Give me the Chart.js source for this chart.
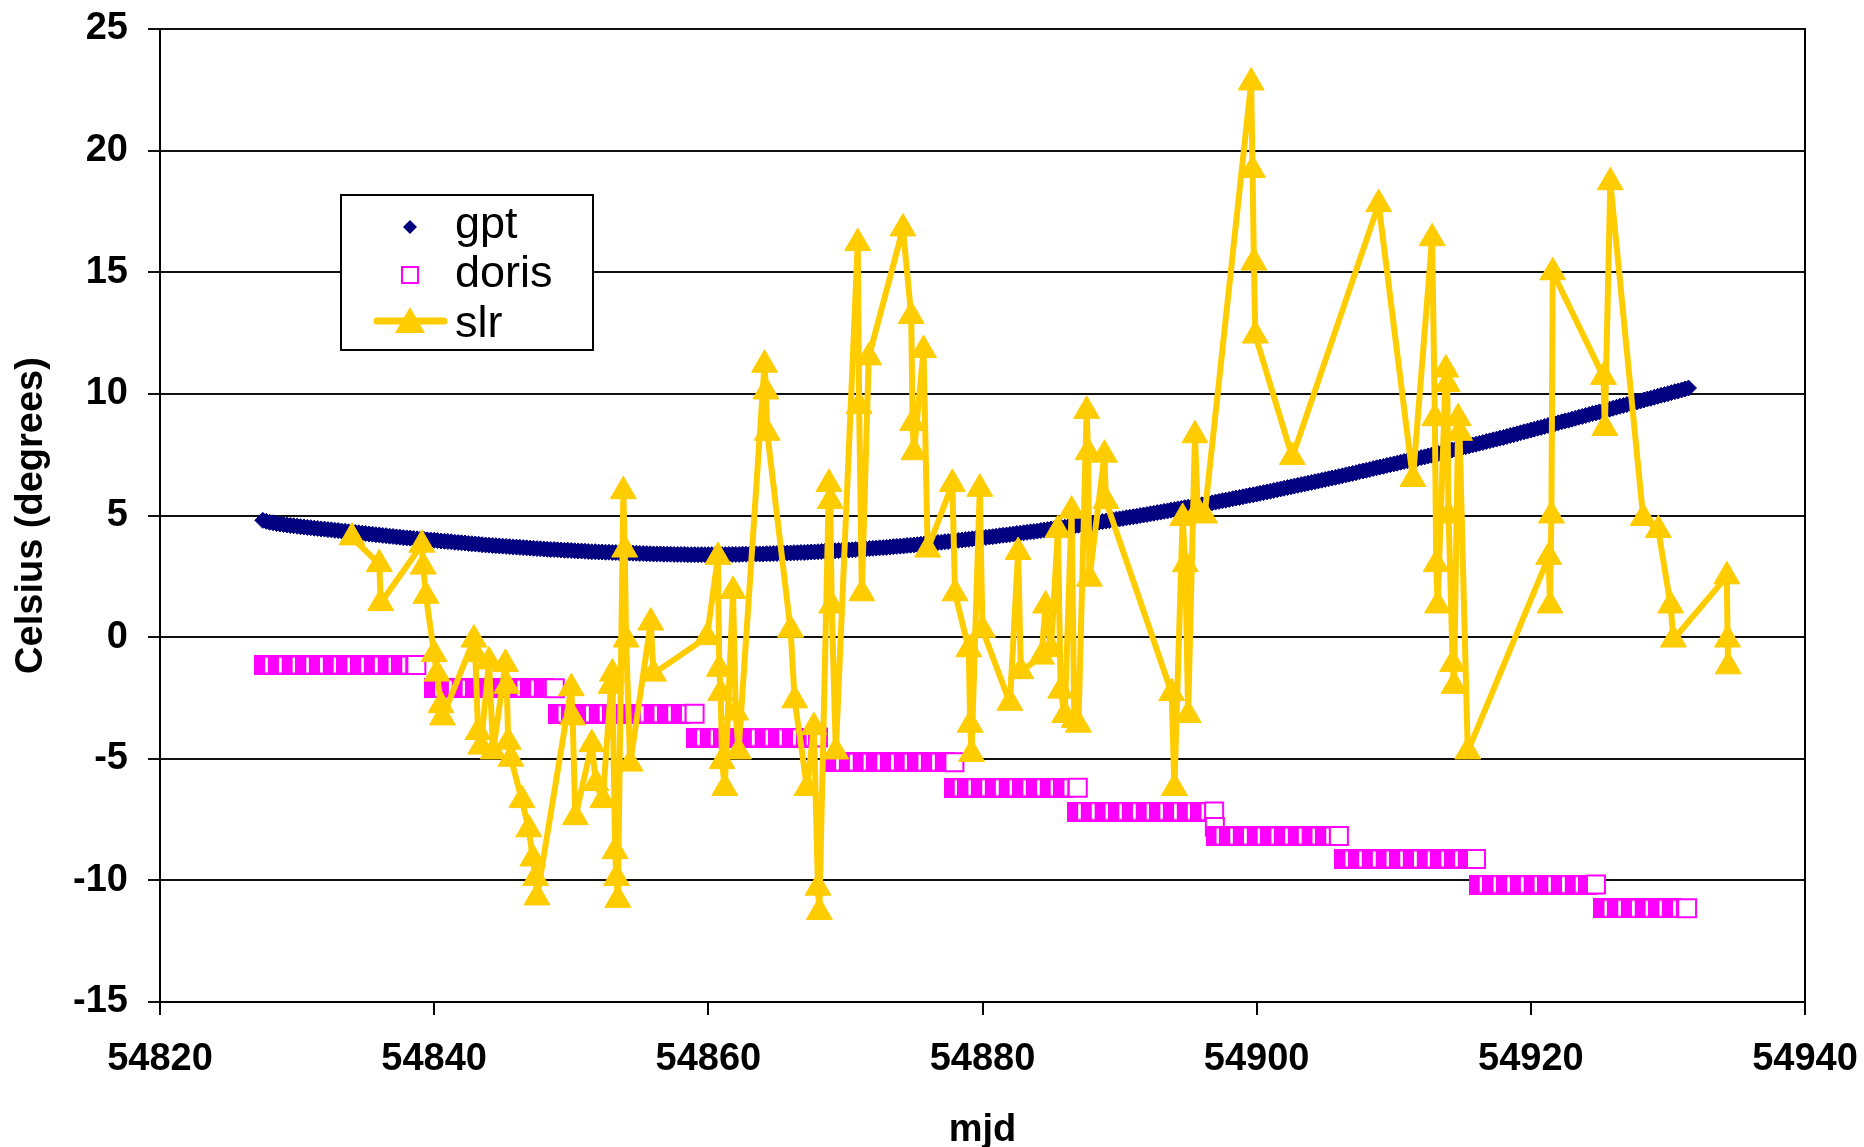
<!DOCTYPE html>
<html>
<head>
<meta charset="utf-8">
<title>gpt / doris / slr temperature</title>
<script src="https://cdn.jsdelivr.net/npm/chart.js@4.4.1/dist/chart.umd.min.js"></script>
<style>
  html, body { margin: 0; padding: 0; background: #ffffff; }
  #chart { display: block; }
</style>
</head>
<body>
<canvas id="chart" width="1864" height="1147"></canvas>
<script>
// ---- series names ----
const seriesNames = ['gpt', 'doris', 'slr'];

// ---- axis ticks ----
const xTicks = [54820, 54840, 54860, 54880, 54900, 54920, 54940];
const yTicks = [-15, -10, -5, 0, 5, 10, 15, 20, 25];

// ---- gpt: model temperature, sampled every 6 hours from MJD 54827.5 ----
const gptStart = 54827.5;
const gptStep = 0.25;
const gptTemp = [
  4.80, 4.76,
  4.72, 4.70, 4.67, 4.65,  4.63, 4.61, 4.59, 4.58,  4.56, 4.54, 4.53, 4.51,  4.50, 4.48, 4.47, 4.45,
  4.44, 4.42, 4.41, 4.39,  4.38, 4.36, 4.35, 4.33,  4.32, 4.30, 4.29, 4.27,  4.26, 4.24, 4.23, 4.21,
  4.20, 4.18, 4.17, 4.15,  4.14, 4.12, 4.11, 4.09,  4.08, 4.07, 4.05, 4.04,  4.03, 4.02, 4.00, 3.99,
  3.98, 3.97, 3.95, 3.94,  3.93, 3.92, 3.90, 3.89,  3.88, 3.87, 3.85, 3.84,  3.83, 3.82, 3.80, 3.79,
  3.78, 3.77, 3.76, 3.75,  3.74, 3.73, 3.72, 3.71,  3.70, 3.69, 3.68, 3.67,  3.66, 3.65, 3.64, 3.63,
  3.62, 3.61, 3.60, 3.60,  3.59, 3.58, 3.57, 3.57,
  3.56, 3.55, 3.54, 3.54,  3.53, 3.52, 3.51, 3.51,  3.50, 3.50, 3.49, 3.49,  3.48, 3.48, 3.47, 3.47,
  3.46, 3.46, 3.45, 3.45,  3.44, 3.44, 3.43, 3.43,  3.42, 3.42, 3.42, 3.41,  3.41, 3.41, 3.40, 3.40,
  3.40, 3.40, 3.39, 3.39,  3.39, 3.39, 3.39, 3.39,
  3.39, 3.39, 3.39, 3.39,  3.39, 3.39, 3.40, 3.40,  3.40, 3.40, 3.41, 3.41,  3.41, 3.41, 3.42, 3.42,
  3.42, 3.43, 3.43, 3.44,  3.44, 3.45, 3.45, 3.46,  3.46, 3.47, 3.47, 3.48,  3.48, 3.49, 3.50, 3.50,
  3.51, 3.52, 3.53, 3.53,  3.54, 3.55, 3.56, 3.56,
  3.57, 3.58, 3.59, 3.60,  3.61, 3.62, 3.63, 3.64,  3.65, 3.66, 3.67, 3.68,  3.69, 3.70, 3.72, 3.73,
  3.74, 3.75, 3.77, 3.78,  3.79, 3.80, 3.82, 3.83,  3.84, 3.86, 3.87, 3.89,  3.90, 3.92, 3.93, 3.95,
  3.96, 3.98, 3.99, 4.01,  4.02, 4.04, 4.05, 4.07,
  4.08, 4.10, 4.12, 4.13,  4.15, 4.17, 4.19, 4.20,  4.22, 4.24, 4.26, 4.27,  4.29, 4.31, 4.33, 4.34,
  4.36, 4.38, 4.40, 4.42,  4.44, 4.46, 4.48, 4.50,  4.52, 4.54, 4.56, 4.58,  4.60, 4.62, 4.64, 4.66,
  4.68, 4.70, 4.73, 4.75,  4.77, 4.79, 4.82, 4.84,
  4.86, 4.88, 4.91, 4.93,  4.95, 4.97, 5.00, 5.02,  5.04, 5.07, 5.09, 5.12,  5.14, 5.17, 5.19, 5.22,
  5.24, 5.27, 5.29, 5.32,  5.34, 5.37, 5.39, 5.42,  5.44, 5.47, 5.50, 5.52,  5.55, 5.58, 5.61, 5.63,
  5.66, 5.69, 5.72, 5.74,  5.77, 5.80, 5.83, 5.85,
  5.88, 5.91, 5.94, 5.97,  6.00, 6.03, 6.06, 6.09,  6.12, 6.15, 6.18, 6.21,  6.24, 6.27, 6.30, 6.33,
  6.36, 6.39, 6.42, 6.45,  6.48, 6.51, 6.54, 6.57,  6.60, 6.63, 6.67, 6.70,  6.73, 6.76, 6.80, 6.83,
  6.86, 6.89, 6.93, 6.96,  6.99, 7.02, 7.06, 7.09,
  7.12, 7.15, 7.19, 7.22,  7.25, 7.28, 7.32, 7.35,  7.38, 7.41, 7.45, 7.48,  7.51, 7.55, 7.58, 7.62,
  7.65, 7.69, 7.72, 7.76,  7.79, 7.83, 7.86, 7.90,  7.93, 7.97, 8.00, 8.04,  8.07, 8.11, 8.14, 8.18,
  8.21, 8.25, 8.29, 8.32,  8.36, 8.40, 8.44, 8.47,
  8.51, 8.55, 8.59, 8.62,  8.66, 8.70, 8.74, 8.77,  8.81, 8.85, 8.89, 8.92,  8.96, 9.00, 9.04, 9.07,
  9.11, 9.15, 9.19, 9.22,  9.26, 9.30, 9.34, 9.37,  9.41, 9.45, 9.49, 9.52,  9.56, 9.60, 9.64, 9.67,
  9.71, 9.75, 9.79, 9.82,  9.86, 9.90, 9.94, 9.97,
  10.01, 10.05, 10.09, 10.12,
  10.16, 10.20, 10.24
];

// ---- doris: daily values, one level per ~10-day batch ----
const dorisMjd = [
  54827.6, 54828.6, 54829.6, 54830.6, 54831.6, 54832.6, 54833.6, 54834.6, 54835.6, 54836.6, 54837.6, 54838.7,
  54840.0, 54841.0, 54842.0, 54843.0, 54844.0, 54845.0, 54846.0, 54847.0, 54848.0, 54848.8,
  54849.0, 54850.0, 54851.0, 54852.0, 54853.0, 54854.0, 54855.0, 54856.0, 54857.0, 54858.0, 54859.0,
  54859.1, 54860.1, 54861.1, 54862.1, 54863.1, 54864.1, 54865.1, 54866.1, 54867.1, 54868.0,
  54869.25, 54870.25, 54871.25, 54872.25, 54873.25, 54874.25, 54875.25, 54876.25, 54877.25, 54877.95,
  54877.9, 54878.9, 54879.9, 54880.9, 54881.9, 54882.9, 54883.9, 54884.9, 54885.9, 54886.95,
  54886.9, 54887.9, 54888.9, 54889.9, 54890.9, 54891.9, 54892.9, 54893.9, 54894.9, 54895.9, 54896.9,
  54896.95,
  54897.0, 54898.0, 54899.0, 54900.0, 54901.0, 54902.0, 54903.0, 54904.0, 54905.0, 54906.0,
  54906.4, 54907.4, 54908.4, 54909.4, 54910.4, 54911.4, 54912.4, 54913.4, 54914.4, 54915.4, 54916.0,
  54916.2, 54917.2, 54918.2, 54919.2, 54920.2, 54921.2, 54922.2, 54923.2, 54924.2, 54924.75,
  54925.3, 54926.3, 54927.3, 54928.3, 54929.3, 54930.3, 54931.4
];
const dorisTemp = [
  -1.15, -1.15, -1.15, -1.15, -1.15, -1.15, -1.15, -1.15, -1.15, -1.15, -1.15, -1.15,
  -2.10, -2.10, -2.10, -2.10, -2.10, -2.10, -2.10, -2.10, -2.10, -2.10,
  -3.15, -3.15, -3.15, -3.15, -3.15, -3.15, -3.15, -3.15, -3.15, -3.15, -3.15,
  -4.13, -4.13, -4.13, -4.13, -4.13, -4.13, -4.13, -4.13, -4.13, -4.13,
  -5.14, -5.14, -5.14, -5.14, -5.14, -5.14, -5.14, -5.14, -5.14, -5.14,
  -6.19, -6.19, -6.19, -6.19, -6.19, -6.19, -6.19, -6.19, -6.19, -6.19,
  -7.17, -7.17, -7.17, -7.17, -7.17, -7.17, -7.17, -7.17, -7.17, -7.17, -7.17,
  -7.80,
  -8.18, -8.18, -8.18, -8.18, -8.18, -8.18, -8.18, -8.18, -8.18, -8.18,
  -9.12, -9.12, -9.12, -9.12, -9.12, -9.12, -9.12, -9.12, -9.12, -9.12, -9.12,
  -10.17, -10.17, -10.17, -10.17, -10.17, -10.17, -10.17, -10.17, -10.17, -10.17,
  -11.15, -11.15, -11.15, -11.15, -11.15, -11.15, -11.15
];

// ---- slr: observed temperatures ----
const slrMjd = [
  54834.0, 54836.0, 54836.1, 54839.1, 54839.2, 54839.4, 54840.0, 54840.2, 54840.5, 54840.6,
  54842.9, 54843.0, 54843.2, 54843.4, 54844.0, 54844.3, 54845.2, 54845.3, 54845.4, 54845.6,
  54846.4, 54846.9, 54847.2, 54847.4, 54847.5, 54850.0, 54850.1, 54850.3, 54851.5, 54851.8,
  54852.3, 54852.9, 54853.0, 54853.2, 54853.3, 54853.4, 54853.8, 54853.9, 54854.0, 54854.3,
  54855.8, 54856.0, 54859.9, 54860.7, 54860.8, 54860.9, 54861.0, 54861.2, 54861.8, 54862.0,
  54862.2, 54864.1, 54864.2, 54864.3, 54866.0, 54866.3, 54867.2, 54867.7, 54868.0, 54868.1,
  54868.8, 54868.9, 54869.0, 54869.3, 54870.9, 54871.0, 54871.2, 54871.7, 54874.2, 54874.8,
  54874.9, 54875.0, 54875.7, 54876.0, 54877.8, 54878.0, 54879.0, 54879.1, 54879.2, 54879.8,
  54880.0, 54882.0, 54882.6, 54882.8, 54884.3, 54884.6, 54885.0, 54885.5, 54885.7, 54886.0,
  54886.5, 54886.7, 54887.0, 54887.6, 54887.7, 54887.8, 54888.9, 54889.0, 54893.8, 54894.0,
  54894.6, 54894.8, 54895.0, 54895.5, 54895.7, 54896.2, 54899.6, 54899.7, 54899.8, 54899.9,
  54902.6, 54908.9, 54911.4, 54912.8, 54913.0, 54913.1, 54913.2, 54913.8, 54913.9, 54914.0,
  54914.3, 54914.4, 54914.7, 54914.8, 54915.4, 54921.3, 54921.4, 54921.5, 54921.6, 54925.3,
  54925.4, 54925.8, 54928.2, 54929.3, 54930.2, 54930.4, 54934.3, 54934.35, 54934.4
];
const slrTemp = [
  4.1, 3.0, 1.4, 3.8, 2.9, 1.7, -0.7, -1.5, -2.8, -3.3,
  -0.1, -0.7, -3.9, -4.5, -1.0, -4.7, -1.1, -2.0, -4.3, -5.0,
  -6.7, -7.9, -9.1, -9.9, -10.7, -2.1, -3.3, -7.4, -4.4, -6.0,
  -6.7, -2.0, -1.5, -8.8, -9.9, -10.8, 6.0, 3.6, -0.1, -5.2,
  0.6, -1.5, 0.0, 3.3, -1.3, -2.3, -5.1, -6.2, 1.9, -3.1,
  -4.7, 11.2, 10.1, 8.4, 0.3, -2.6, -6.2, -3.7, -10.3, -11.3,
  6.3, 5.6, 1.3, -4.7, 16.2, 9.5, 1.8, 11.5, 16.8, 13.2,
  8.8, 7.6, 11.8, 3.6, 6.3, 1.8, -0.5, -3.6, -4.8, 6.1,
  0.3, -2.7, 3.5, -1.4, -0.8, 1.3, -0.5, 4.4, -2.2, -3.2,
  5.2, -3.4, -3.6, 9.3, 7.6, 2.4, 7.5, 5.6, -2.3, -6.2,
  4.9, 3.0, -3.2, 8.3, 5.2, 5.0, 22.8, 19.2, 15.4, 12.4,
  7.4, 17.8, 6.5, 16.4, 9.0, 3.0, 1.3, 11.0, 10.4, 5.0,
  -1.1, -2.0, 9.0, 8.4, -4.7, 3.3, 1.3, 5.0, 15.0, 10.7,
  8.6, 18.7, 4.9, 4.4, 1.3, -0.1, 2.5, -0.1, -1.2
];

// ---- styling ----
const FONT = "'Liberation Sans', Arial, Helvetica, sans-serif";
const GPT_COLOR = '#000080';
const DORIS_COLOR = '#FF00FF';
const SLR_COLOR = '#FFCC00';
const GRID_COLOR = '#111111';

Chart.defaults.font.family = FONT;
Chart.defaults.color = '#000000';

const gptPoints = gptTemp.map((t, i) => ({ x: gptStart + i * gptStep, y: t }));
const dorisPoints = dorisMjd.map((m, i) => ({ x: m, y: dorisTemp[i] }));
const slrPoints = slrMjd.map((m, i) => ({ x: m, y: slrTemp[i] }));

// the last marker of each doris batch is left open
function dorisOpen(i) {
  return i === dorisTemp.length - 1 || dorisTemp[i + 1] !== dorisTemp[i];
}

// filled doris marker with a light slit, so overlapping markers read as a ribbed band
function dorisBlock() {
  const c = document.createElement('canvas');
  c.width = 20; c.height = 20;
  const g = c.getContext('2d');
  g.fillStyle = DORIS_COLOR;
  g.fillRect(0, 0, 20, 20);
  g.fillStyle = '#ffffff';
  g.fillRect(11, 2.5, 2.8, 15);
  return c;
}
const dorisBlockImg = dorisBlock();

// boxed legend placed inside the plot area
const boxLegend = {
  id: 'boxLegend',
  afterDatasetsDraw(chart) {
    const { ctx, chartArea: a } = chart;
    const x0 = a.left + 181, y0 = a.top + 166, w = 252, h = 155;
    const sx = x0 + 69, tx = x0 + 114;
    const names = chart.data.datasets.map(d => d.label);
    ctx.save();
    ctx.fillStyle = '#ffffff';
    ctx.fillRect(x0, y0, w, h);
    ctx.strokeStyle = '#000000';
    ctx.lineWidth = 2;
    ctx.strokeRect(x0, y0, w, h);

    // gpt: diamond
    let cy = y0 + 32;
    ctx.fillStyle = GPT_COLOR;
    ctx.beginPath();
    ctx.moveTo(sx, cy - 7); ctx.lineTo(sx + 7, cy); ctx.lineTo(sx, cy + 7); ctx.lineTo(sx - 7, cy);
    ctx.closePath(); ctx.fill();

    // doris: open square
    cy = y0 + 80;
    ctx.fillStyle = '#ffffff';
    ctx.strokeStyle = DORIS_COLOR;
    ctx.lineWidth = 2;
    ctx.fillRect(sx - 8, cy - 8, 16, 16);
    ctx.strokeRect(sx - 8, cy - 8, 16, 16);

    // slr: line with triangle
    cy = y0 + 126;
    ctx.strokeStyle = SLR_COLOR;
    ctx.lineWidth = 7;
    ctx.lineCap = 'round';
    ctx.beginPath(); ctx.moveTo(x0 + 36, cy); ctx.lineTo(x0 + 103, cy); ctx.stroke();
    ctx.fillStyle = SLR_COLOR;
    ctx.beginPath();
    ctx.moveTo(sx, cy - 14); ctx.lineTo(sx + 15, cy + 12); ctx.lineTo(sx - 15, cy + 12);
    ctx.closePath(); ctx.fill();

    ctx.fillStyle = '#000000';
    ctx.font = '45px ' + FONT;
    ctx.textAlign = 'left';
    ctx.textBaseline = 'alphabetic';
    ctx.fillText(names[0], tx, y0 + 43);
    ctx.fillText(names[1], tx, y0 + 92);
    ctx.fillText(names[2], tx, y0 + 142);
    ctx.restore();
  }
};

const tickFont = { family: FONT, size: 38, weight: 'bold' };

new Chart(document.getElementById('chart'), {
  type: 'scatter',
  data: {
    datasets: [
      {
        label: seriesNames[0],
        data: gptPoints,
        order: 2,
        showLine: false,
        pointStyle: 'rectRot',
        pointRadius: 8,
        pointBackgroundColor: GPT_COLOR,
        pointBorderColor: GPT_COLOR,
        pointBorderWidth: 1
      },
      {
        label: seriesNames[1],
        data: dorisPoints,
        order: 1,
        showLine: false,
        pointStyle: (c) => (c.type === 'data' && !dorisOpen(c.dataIndex)) ? dorisBlockImg : 'rect',
        pointRadius: (c) => (c.type === 'data' && !dorisOpen(c.dataIndex)) ? 10 : 12.7,
        pointBackgroundColor: (c) => (c.type === 'data' && !dorisOpen(c.dataIndex)) ? DORIS_COLOR : '#ffffff',
        pointBorderColor: DORIS_COLOR,
        pointBorderWidth: 2
      },
      {
        label: seriesNames[2],
        data: slrPoints,
        order: 0,
        showLine: true,
        borderColor: SLR_COLOR,
        borderWidth: 6,
        borderJoinStyle: 'round',
        borderCapStyle: 'round',
        tension: 0,
        pointStyle: 'triangle',
        pointRadius: 15,
        pointBackgroundColor: SLR_COLOR,
        pointBorderColor: SLR_COLOR,
        pointBorderWidth: 1
      }
    ]
  },
  options: {
    responsive: false,
    animation: false,
    devicePixelRatio: 1,
    events: [],
    layout: { padding: { left: 0, right: 0, top: 29, bottom: 0 } },
    plugins: {
      legend: { display: false },
      tooltip: { enabled: false }
    },
    scales: {
      x: {
        type: 'linear',
        position: 'bottom',
        min: xTicks[0],
        max: xTicks[xTicks.length - 1],
        afterBuildTicks: (s) => { s.ticks = xTicks.map(v => ({ value: v })); },
        afterFit: (s) => { s.height = 145; s.paddingLeft = 0; s.paddingRight = 0; },
        ticks: {
          font: tickFont,
          color: '#000000',
          padding: 22,
          maxRotation: 0,
          autoSkip: false,
          callback: (v) => String(v)
        },
        grid: {
          drawOnChartArea: false,
          drawTicks: true,
          tickLength: 13,
          color: '#000000',
          lineWidth: 2
        },
        border: { display: true, color: '#000000', width: 2 },
        title: {
          display: true,
          text: 'mjd',
          font: tickFont,
          color: '#000000',
          padding: { top: 0, bottom: -6 }
        }
      },
      y: {
        type: 'linear',
        position: 'left',
        min: yTicks[0],
        max: yTicks[yTicks.length - 1],
        afterBuildTicks: (s) => { s.ticks = yTicks.map(v => ({ value: v })); },
        afterFit: (s) => { s.width = 160; s.paddingTop = 0; s.paddingBottom = 0; },
        ticks: {
          font: tickFont,
          color: '#000000',
          padding: 20,
          autoSkip: false,
          callback: (v) => String(v)
        },
        grid: {
          drawOnChartArea: true,
          drawTicks: true,
          tickLength: 12,
          color: GRID_COLOR,
          lineWidth: 2
        },
        border: { display: true, color: '#000000', width: 2 },
        title: {
          display: true,
          text: 'Celsius (degrees)',
          font: tickFont,
          color: '#000000',
          padding: { top: 9, bottom: 0 }
        }
      },
      frame: {
        type: 'linear',
        position: 'right',
        min: yTicks[0],
        max: yTicks[yTicks.length - 1],
        afterFit: (s) => { s.width = 59; s.paddingTop = 0; s.paddingBottom = 0; },
        ticks: { display: false },
        grid: { display: false, drawTicks: false },
        border: { display: true, color: '#000000', width: 2 }
      }
    }
  },
  plugins: [boxLegend]
});
</script>
</body>
</html>
